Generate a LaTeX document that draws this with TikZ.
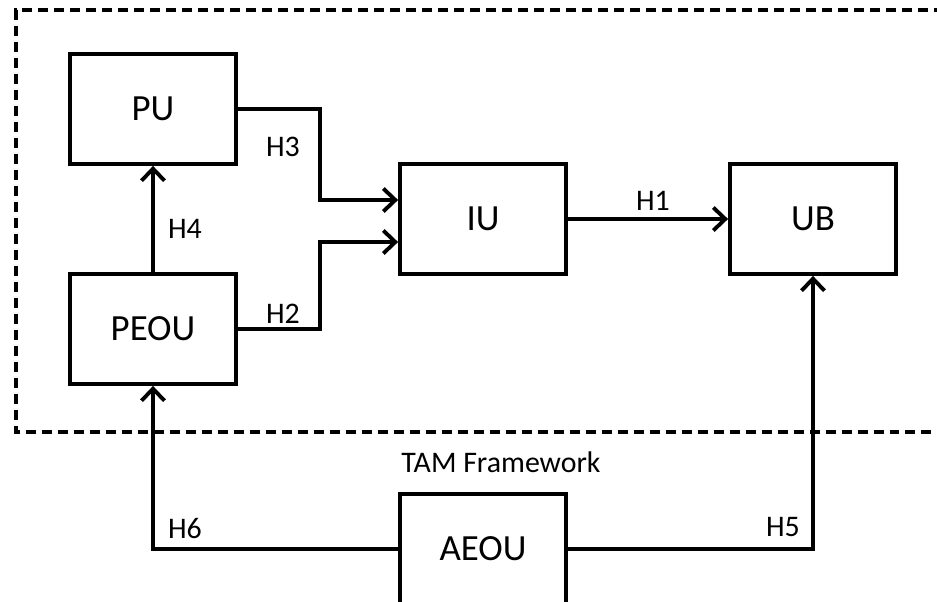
\documentclass[tikz,border=0pt]{standalone}
\usepackage{fontspec}
\setmainfont{Carlito}
\usetikzlibrary{arrows.meta}
\tikzset{
  block/.style={draw,line width=2.2pt,minimum width=3.32cm,minimum height=2.2cm,
    inner sep=0pt,font=\fontsize{21}{24}\selectfont},
  link/.style={line width=2.2pt,-{Straight Barb[length=2.4mm,width=4.6mm,line width=2.2pt]}},
  hyp/.style={inner sep=0pt,font=\fontsize{17}{20}\selectfont},
  frame/.style={line width=2pt,dash pattern=on 0.2cm off 0.12cm}
}
\begin{document}
\begin{tikzpicture}[x=0.02cm,y=-0.02cm,line join=miter,line cap=butt]
				\useasboundingbox (0,0) rectangle (937,602);
				\clip (0,0) rectangle (937,602);
				% dashed frame round the TAM part
				\draw[frame] (960,10) -- (16,10) -- (16,432) -- (960,432);
				\node[hyp] (tam) at (501,462) {TAM Framework};
				% the five boxes
				\node[block] (pu) at (153,109) {PU};
				\node[block] (peou) at (153,329) {PEOU};
				\node[block] (iu) at (483,219) {IU};
				\node[block] (ub) at (813,219) {UB};
				\node[block] (aeou) at (483,549) {AEOU};
				% hypotheses
				\draw[link] (peou.north) -- (pu.south);
				\draw[link] (pu.east) -- ++(82,0) |- ([yshift=0.38cm]iu.west);
				\draw[link] (peou.east) -- ++(82,0) |- ([yshift=-0.46cm]iu.west);
				\draw[link] (iu.east) -- (ub.west);
				\draw[link] (aeou.west) -| (peou.south);
				\draw[link] (aeou.east) -| (ub.south);
				\foreach \n/\x/\y in {1/653/201,2/283/314,3/283/147,4/185/229,5/783/527,6/185/529}
				{\node[hyp] (h\n) at (\x,\y) {H\n};}
			\end{tikzpicture}
\end{document}
